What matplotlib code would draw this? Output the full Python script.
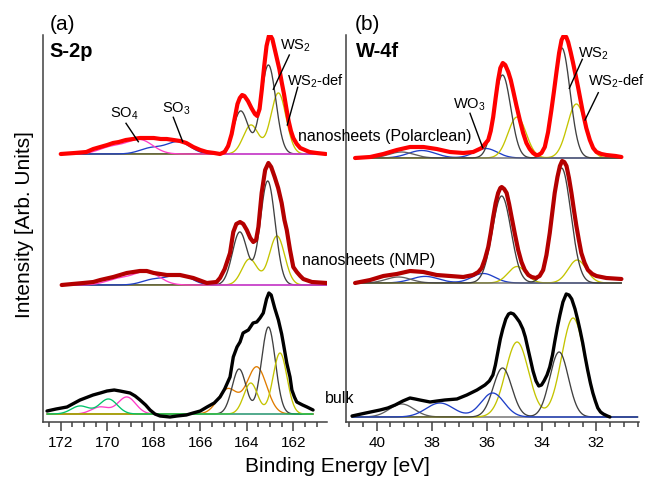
import numpy as np
import matplotlib
matplotlib.use("Agg")
import matplotlib.pyplot as plt
from matplotlib.lines import Line2D

plt.rcParams['font.family'] = ['Liberation Sans', 'DejaVu Sans']
plt.rcParams['mathtext.default'] = 'regular'

# ------------------------------------------------------------------ data
S2P_TICKS = [172, 170, 168, 166, 164, 162]
W4F_TICKS = [40, 38, 36, 34, 32]

# measured spectra: binding energy [eV] and intensity [arb. units]
S2P_POLAR_E = [172.0, 171.4, 170.9, 170.6, 170.3, 170.0, 169.75, 169.5, 169.2, 168.9, 168.6, 168.3,
               168.0, 167.7, 167.44, 167.15, 166.87, 166.6, 166.3, 166.0, 165.72, 165.4, 165.15,
               164.95, 164.8, 164.65, 164.5, 164.4, 164.3, 164.2, 164.1, 163.95, 163.8, 163.65,
               163.55, 163.45, 163.35, 163.25, 163.15, 163.05, 163.0, 162.9, 162.8, 162.7, 162.6,
               162.5, 162.4, 162.3, 162.2, 162.1, 162.0, 161.85, 161.7, 161.5, 161.3, 161.0, 160.6]
S2P_POLAR_I = [0, 1, 2, 5, 7, 9, 11, 12, 14, 15, 16, 16,
               16, 15, 15, 14, 13, 11, 7, 4, 2, 1, 0,
               2, 8, 20, 38, 50, 56, 59, 58, 53, 46, 40,
               38, 45, 65, 88, 108, 118, 119, 115, 105, 95, 85,
               72, 60, 46, 33, 23, 16, 10, 6, 4, 2, 1, 0]

S2P_NMP_E = [171.96, 171.5, 171.03, 170.6, 170.3, 169.74, 169.16, 168.6, 168.3, 168.0, 167.44, 166.87,
             166.3, 165.72, 165.3, 165.15, 164.95, 164.72, 164.58, 164.45, 164.29, 164.15, 164.0,
             163.85, 163.72, 163.6, 163.5, 163.36, 163.21, 163.07, 162.95, 162.8, 162.65, 162.5,
             162.38, 162.28, 162.14, 162.0, 161.85, 161.7, 161.57, 161.2, 160.56]
S2P_NMP_I = [0, 1, 2, 3, 5, 8, 12, 14, 14, 12, 10, 10,
             7, 2, 3, 7, 16, 32, 53, 61, 63, 61, 55,
             47, 43, 45, 58, 92, 115, 122, 118, 108, 97, 82,
             65, 55, 35, 18, 13, 9, 6, 3, 2]

S2P_BULK_E = [172.59, 172.2, 171.73, 171.17, 170.61, 170.3, 170.01, 169.7, 169.45, 169.02, 168.8,
              168.59, 168.35, 168.16, 167.95, 167.73, 167.3, 167.0, 166.6, 166.31, 166.0, 165.71,
              165.4, 165.15, 164.95, 164.72, 164.58, 164.42, 164.29, 164.16, 163.93, 163.73,
              163.57, 163.43, 163.29, 163.15, 163.05, 162.95, 162.8, 162.64, 162.5, 162.43,
              162.28, 162.14, 162.06, 161.95, 161.85, 161.6, 161.41, 161.15]
S2P_BULK_I = [3, 5, 7, 14, 19, 21, 23, 24, 23, 21, 18,
              14, 9, 4, 0, -2, -3, -2, -1, 1, 3, 7,
              11, 17, 25, 37, 57, 67, 72, 81, 84, 91,
              92, 96, 101, 115, 121, 119, 106, 94, 80, 71,
              51, 37, 24, 17, 12, 9, 7, 4]

W4F_POLAR_E = [40.79, 40.24, 39.76, 39.27, 38.79, 38.3, 37.82, 37.33, 36.85, 36.49, 36.18, 35.94,
               35.85, 35.76, 35.67, 35.58, 35.5, 35.41, 35.32, 35.21, 35.12, 35.03, 34.91, 34.79,
               34.67, 34.55, 34.43, 34.31, 34.2, 34.12, 34.0, 33.88, 33.76, 33.64, 33.55, 33.45,
               33.36, 33.27, 33.18, 33.1, 33.03, 32.94, 32.85, 32.76, 32.67, 32.58, 32.49, 32.37,
               32.24, 32.12, 32.0, 31.82, 31.64, 31.3, 31.09]
W4F_POLAR_I = [0, 1, 4, 8, 11, 11, 9, 6, 5, 6, 10, 18,
               27, 41, 60, 78, 90, 95, 93, 86, 78, 67, 52, 38,
               25, 15, 9, 5, 3, 3, 5, 11, 26, 48, 66, 87,
               105, 118, 123, 121, 116, 106, 95, 83, 71, 58, 45, 30,
               18, 10, 6, 4, 3, 2, 1]

W4F_NMP_E = [40.79, 40.24, 39.76, 39.27, 38.79, 38.3, 37.82, 37.33, 36.85, 36.49, 36.3, 36.18,
             36.06, 35.94, 35.85, 35.76, 35.67, 35.58, 35.5, 35.45, 35.36, 35.27, 35.18, 35.09,
             34.97, 34.85, 34.73, 34.61, 34.48, 34.36, 34.21, 34.07, 33.94, 33.82, 33.7, 33.61,
             33.52, 33.42, 33.33, 33.25, 33.17, 33.09, 33.0, 32.91, 32.82, 32.73, 32.64, 32.55,
             32.43, 32.31, 32.15, 32.0, 31.64, 31.09]
W4F_NMP_I = [0, 3, 7, 9, 12, 11, 8, 7, 6, 8, 11, 15,
             24, 36, 50, 66, 80, 90, 95, 96, 94, 90, 79, 66,
             49, 33, 21, 13, 8, 6, 5, 7, 13, 28, 50, 70,
             90, 106, 117, 122, 121, 117, 105, 90, 73, 57, 43, 30,
             20, 13, 9, 7, 5, 4]

W4F_BULK_E = [40.9, 40.4, 39.88, 39.6, 39.33, 39.05, 38.79, 38.6, 38.43, 38.06, 37.8, 37.52, 37.08,
              36.72, 36.35, 36.06, 35.9, 35.77, 35.68, 35.59, 35.5, 35.41, 35.3, 35.2, 35.12, 35.02,
              34.93, 34.8, 34.68, 34.59, 34.5, 34.4, 34.31, 34.2, 34.1, 34.0, 33.91, 33.8, 33.7,
              33.6, 33.52, 33.42, 33.33, 33.22, 33.1, 33.0, 32.9, 32.78, 32.68, 32.59, 32.5, 32.41,
              32.32, 32.22, 32.13, 32.04, 31.95, 31.85, 31.75, 31.6, 31.51]
W4F_BULK_I = [1, 4, 7, 9, 12, 16, 19, 18, 17, 15, 16, 17, 18,
              22, 27, 32, 36, 42, 52, 65, 78, 88, 98, 103, 104, 103,
              100, 95, 88, 80, 69, 57, 46, 36, 31, 32, 36, 42, 50,
              62, 75, 90, 102, 115, 123, 122, 118, 108, 97, 86, 74, 60,
              47, 34, 24, 16, 9, 5, 3, 1, 0]

# fitted components: (center eV, height, sigma eV) per doublet line
S2P_POLAR_FIT = {'WS2def': [(162.64, 61, 0.33), (163.82, 29, 0.33)],
                 'WS2':    [(163.07, 89, 0.32), (164.26, 43, 0.32)],
                 'SO3':    [(166.94, 12, 0.50), (168.10, 6, 0.50)],
                 'SO4':    [(168.59, 14, 0.55), (169.80, 7, 0.55)]}
S2P_NMP_FIT = {'WS2def': [(162.70, 49, 0.33), (163.88, 26, 0.33)],
               'WS2':    [(163.10, 104, 0.32), (164.30, 53, 0.32)],
               'SO3':    [(166.87, 10, 0.50), (168.00, 5.5, 0.50)],
               'SO4':    [(168.30, 13, 0.55), (169.50, 6, 0.55)]}
S2P_BULK_FIT = {'SO4':    [(169.16, 17, 0.38), (170.31, 7, 0.38)],
                'Sx':     [(163.57, 47, 0.42), (164.82, 25, 0.42)],
                'WS2':    [(163.07, 87, 0.30), (164.33, 45, 0.30)],
                'WS2def': [(162.57, 61, 0.30), (163.83, 31, 0.30)],
                'Sy':     [(169.95, 15, 0.38), (171.17, 8, 0.38)]}

W4F_POLAR_FIT = {'WO3':    [(36.03, 9.5, 0.42), (38.36, 7.5, 0.50)],
                 'WS2def': [(32.73, 54, 0.33), (34.89, 41, 0.33)],
                 'W5p':    [(39.10, 6, 0.45)],
                 'WS2':    [(33.26, 110, 0.30), (35.42, 83, 0.30)]}
W4F_NMP_FIT = {'WO3':    [(36.12, 9.5, 0.42), (38.24, 6.6, 0.50)],
               'WS2def': [(32.70, 23, 0.33), (34.89, 16.5, 0.33)],
               'W5p':    [(39.21, 6, 0.45)],
               'WS2':    [(33.27, 115, 0.34), (35.45, 87, 0.34)]}
W4F_BULK_FIT = {'W5p':    [(39.09, 13, 0.45)],
                'WS2def': [(32.85, 99, 0.42), (34.89, 75, 0.42)],
                'WS2':    [(33.36, 65, 0.34), (35.42, 49, 0.34)],
                'WO3':    [(35.78, 24, 0.42), (37.70, 14, 0.50)]}

# ------------------------------------------------------------------ style / layout
FIG_W, FIG_H = 647, 480
COMP_COLORS = {'WS2': '#404040', 'WS2def': '#c4c400', 'SO4': '#ff3cc8', 'SO3': '#1f3fc8',
               'Sx': '#e07c00', 'Sy': '#00c46a', 'WO3': '#1f3fc8', 'W5p': '#606060'}
DATA_STYLE = {'polar': ('#ff0000', 3.0), 'nmp': ('#b40000', 3.0), 'bulk': ('#000000', 2.4)}
LEFT_OFFS = {'polar': 268, 'nmp': 137, 'bulk': 8}
RIGHT_OFFS = {'polar': 264, 'nmp': 139, 'bulk': 5}
LEFT_RANGE = {'polar': (172.0, 160.6), 'nmp': (171.96, 160.56), 'bulk': (172.59, 161.15)}
RIGHT_RANGE = {'polar': (40.79, 31.09), 'nmp': (40.79, 31.09), 'bulk': (40.9, 30.5)}

def fx(x):
    return x / FIG_W

def fy(y):
    return 1 - y / FIG_H

fig = plt.figure(figsize=(FIG_W / 100, FIG_H / 100), dpi=100)
ax1 = fig.add_axes([fx(43.3), fy(422), (327 - 43.3) / FIG_W, 387 / FIG_H])
ax2 = fig.add_axes([fx(346), fy(422), (639 - 346) / FIG_W, 387 / FIG_H])

def draw_components(ax, fit, erange, off):
    e = np.linspace(erange[0], erange[1], 600)
    for key, lines in fit.items():
        y = np.zeros_like(e)
        for c, h, s in lines:
            y += h * np.exp(-(e - c) ** 2 / (2 * s ** 2))
        ax.plot(e, y + off, color=COMP_COLORS[key], lw=0.95, zorder=2, solid_capstyle='round')

def draw_data(ax, E, I, key, off):
    col, lw = DATA_STYLE[key]
    ax.plot(E, np.asarray(I, float) + off, color=col, lw=lw, zorder=3,
            solid_joinstyle='round', solid_capstyle='round')

left_sets = [('polar', S2P_POLAR_E, S2P_POLAR_I, S2P_POLAR_FIT),
             ('nmp', S2P_NMP_E, S2P_NMP_I, S2P_NMP_FIT),
             ('bulk', S2P_BULK_E, S2P_BULK_I, S2P_BULK_FIT)]
right_sets = [('polar', W4F_POLAR_E, W4F_POLAR_I, W4F_POLAR_FIT),
              ('nmp', W4F_NMP_E, W4F_NMP_I, W4F_NMP_FIT),
              ('bulk', W4F_BULK_E, W4F_BULK_I, W4F_BULK_FIT)]

for key, E, I, fit in left_sets:
    draw_components(ax1, fit, LEFT_RANGE[key], LEFT_OFFS[key])
    draw_data(ax1, E, I, key, LEFT_OFFS[key])
for key, E, I, fit in right_sets:
    draw_components(ax2, fit, RIGHT_RANGE[key], RIGHT_OFFS[key])
    draw_data(ax2, E, I, key, RIGHT_OFFS[key])

for ax, lim, ticks in [(ax1, (172.75, 160.55), S2P_TICKS), (ax2, (41.12, 30.45), W4F_TICKS)]:
    ax.set_xlim(*lim)
    ax.set_ylim(0, 387)
    ax.set_xticks(ticks)
    ax.set_xticklabels([str(t) for t in ticks])
    lo, hi = min(lim), max(lim)
    ax.set_xticks(np.arange(np.ceil(lo * 2) / 2, hi, 0.5), minor=True)
    ax.set_yticks([])
    for s in ['top', 'right']:
        ax.spines[s].set_visible(False)
    for s in ['left', 'bottom']:
        ax.spines[s].set_color('#404040')
        ax.spines[s].set_linewidth(1.1)
    ax.tick_params(axis='x', which='major', length=6.5, width=1.1, color='#404040',
                   direction='out', labelsize=11, pad=3.5)
    ax.tick_params(axis='x', which='minor', length=3.4, width=1.1, color='#404040', direction='out')
    ax.patch.set_alpha(0)

# ------------------------------------------------------------------ texts
fig.text(fx(337.5), fy(467), 'Binding Energy [eV]', fontsize=15, ha='center', va='center')
fig.text(fx(25), fy(225), 'Intensity [Arb. Units]', fontsize=15, ha='center', va='center', rotation=90)
fig.text(fx(50), fy(24.5), '(a)', fontsize=15, ha='left', va='center')
fig.text(fx(355), fy(24.5), '(b)', fontsize=15, ha='left', va='center')
fig.text(fx(49), fy(57), 'S-2p', fontsize=14.5, fontweight='bold', ha='left', va='baseline')
fig.text(fx(356), fy(57), 'W-4f', fontsize=14.5, fontweight='bold', ha='left', va='baseline')

peak_labels = [('SO$_4$', 110, 118), ('SO$_3$', 162, 113), ('WS$_2$', 280, 50), ('WS$_2$-def', 287, 86),
               ('WO$_3$', 453, 109), ('WS$_2$', 578, 58), ('WS$_2$-def', 588, 86)]
for txt, x, y in peak_labels:
    fig.text(fx(x), fy(y), txt, fontsize=10.5, ha='left', va='baseline')

sample_labels = [('nanosheets (Polarclean)', 298, 141), ('nanosheets (NMP)', 302, 265), ('bulk', 325, 403)]
for txt, x, y in sample_labels:
    fig.text(fx(x), fy(y), txt, fontsize=11.5, ha='left', va='baseline')

leaders = [((126, 123.3), (138.3, 141.7)), ((173.3, 117.3), (182.7, 141.7)),
           ((289.3, 55), (273.3, 89.3)), ((297.7, 87.3), (287.3, 125)),
           ((470, 113.3), (482.7, 147.7)), ((582.3, 59.3), (569.3, 88.3)),
           ((598.3, 92.7), (585, 120))]
for (x0, y0), (x1, y1) in leaders:
    fig.add_artist(Line2D([fx(x0), fx(x1)], [fy(y0), fy(y1)], color='black', lw=1.0))

fig.savefig('out.png', dpi=100)
